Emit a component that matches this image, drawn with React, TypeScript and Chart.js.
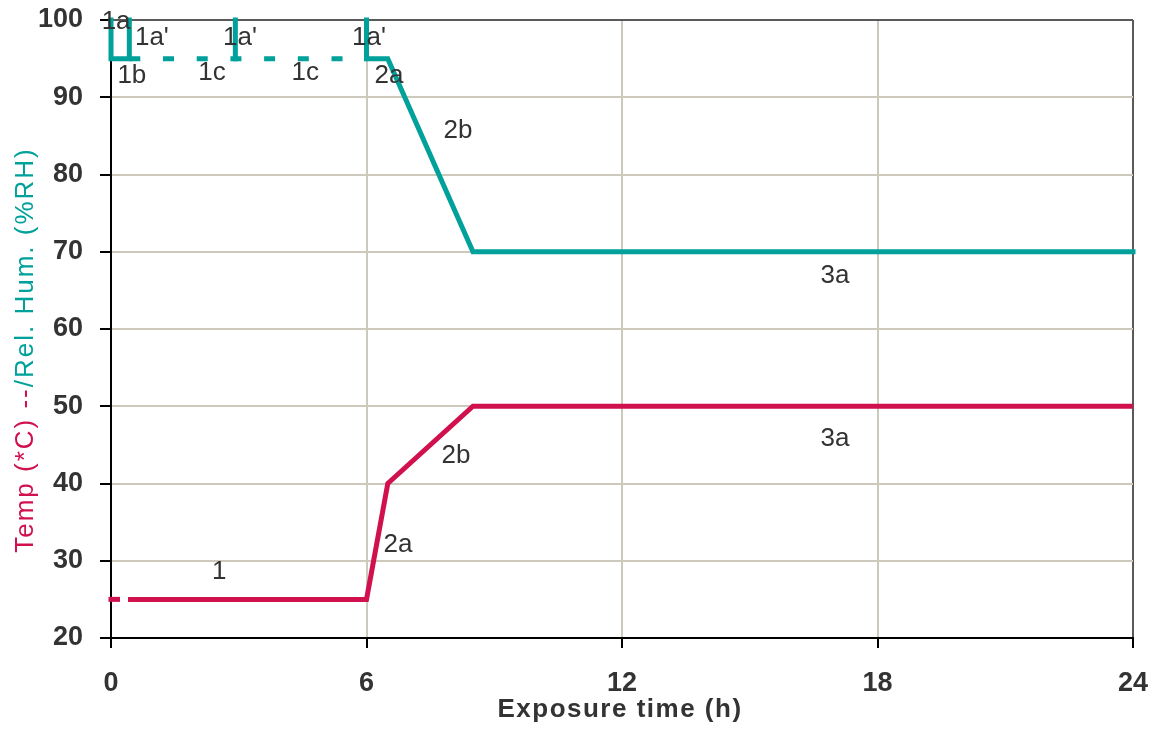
import React, { useEffect, useRef } from "react";
import { Chart, registerables } from "chart.js";

Chart.register(...registerables);

// ---- data ----
const timeMin = 0;
const timeMax = 24;
const timeStep = 6;
const valueMin = 20;
const valueMax = 100;
const valueStep = 10;

// temperature (°C)
const tempDashedTime = [0, 0.4];
const tempDashedValue = [25, 25];
const tempSolidTime = [0.4, 6, 6.5, 8.5, 24];
const tempSolidValue = [25, 25, 40, 50, 50];

// relative humidity (%RH); null = break in the line
const rhSolidTime = [0, 0, 0.43, 0.43, 1, 2.92, 2.92, 4, 6, 6, 6.5, 8.5, 24];
const rhSolidValue = [100, 95, 95, 100, null, 95, 100, null, 100, 95, 95, 70, 70];
const rhDashedTime = [0.43, 6];
const rhDashedValue = [95, 95];

// phase annotations
const labelText = ["1a", "1a'", "1a'", "1a'", "1b", "1c", "1c", "2a", "2b", "3a", "3a", "2b", "2a", "1"];
const labelTime = [0.12, 0.96, 3.03, 6.06, 0.49, 2.37, 4.56, 6.53, 8.15, 17.0, 17.0, 8.1, 6.74, 2.54];
const labelValue = [100.1, 98.0, 98.0, 98.0, 93.0, 93.4, 93.4, 93.1, 85.9, 67.1, 46.1, 43.8, 32.4, 28.9];

const xTitle = "Exposure time (h)";
const yTitleTemp = "Temp (*C) --";
const yTitleRh = "/Rel. Hum. (%RH)";

const TEAL = "#00a19a";
const RED = "#d0114e";
const GRID = "#cdcabb";
const FRAME = "#5a5a5a";
const TEXT = "#333333";
const FONT = "'Liberation Sans', Arial, sans-serif";

const pts = (xs: number[], ys: (number | null)[]) => xs.map((x, i) => ({ x, y: ys[i] }));

const textPlugin = {
  id: "phaseLabels",
  afterDatasetsDraw(chart: any) {
    const { ctx, scales } = chart;
    const xs = scales.x;
    const ys = scales.y;
    ctx.save();
    ctx.font = `26px ${FONT}`;
    ctx.fillStyle = TEXT;
    ctx.textAlign = "center";
    ctx.textBaseline = "alphabetic";
    labelText.forEach((t, i) => {
      const px = xs.getPixelForValue(labelTime[i]);
      const py = ys.getPixelForValue(labelValue[i]);
      ctx.fillText(t, px, py + 9.3);
    });
    ctx.restore();
  },
  afterDraw(chart: any) {
    const { ctx } = chart;
    ctx.save();
    // x title
    ctx.font = `bold 26px ${FONT}`;
    (ctx as any).letterSpacing = "1.5px";
    ctx.fillStyle = TEXT;
    ctx.textAlign = "left";
    ctx.textBaseline = "alphabetic";
    const wx = ctx.measureText(xTitle).width;
    ctx.fillText(xTitle, 620 - wx / 2, 717);
    // y title (two colours)
    ctx.font = `26px ${FONT}`;
    (ctx as any).letterSpacing = "2px";
    const w1 = ctx.measureText(yTitleTemp).width;
    const w2 = ctx.measureText(yTitleRh).width;
    const total = w1 + w2;
    ctx.translate(33, 350);
    ctx.rotate(-Math.PI / 2);
    ctx.fillStyle = RED;
    ctx.fillText(yTitleTemp, -total / 2, 0);
    ctx.fillStyle = TEAL;
    ctx.fillText(yTitleRh, -total / 2 + w1, 0);
    ctx.restore();
  },
};

export default function App() {
  const ref = useRef<HTMLCanvasElement | null>(null);

  useEffect(() => {
    if (!ref.current) return;
    const line = {
      borderWidth: 5,
      pointRadius: 0,
      tension: 0,
      fill: false,
      spanGaps: false,
      borderJoinStyle: "miter" as const,
    };
    const chart = new Chart(ref.current, {
      type: "line",
      data: {
        datasets: [
          {
            ...line,
            data: pts(rhSolidTime, rhSolidValue),
            borderColor: TEAL,
            borderCapStyle: "square",
            clip: false,
          },
          {
            ...line,
            data: pts(rhDashedTime, rhDashedValue),
            borderColor: TEAL,
            borderCapStyle: "butt",
            borderDash: [11, 22.7],
          },
          {
            ...line,
            data: pts(tempSolidTime, tempSolidValue),
            borderColor: RED,
            borderCapStyle: "butt",
          },
          {
            ...line,
            data: pts(tempDashedTime, tempDashedValue),
            borderColor: RED,
            borderCapStyle: "square",
            borderDash: [6.5, 40],
            clip: false,
          },
        ] as any,
      },
      options: {
        animation: false,
        responsive: true,
        maintainAspectRatio: false,
        events: [],
        layout: { padding: { top: 20, right: 24, bottom: 0, left: 0 } },
        plugins: {
          legend: { display: false },
          tooltip: { enabled: false },
        },
        scales: {
          x: {
            type: "linear",
            min: timeMin,
            max: timeMax,
            afterFit: (s: any) => {
              s.height = 91;
              s.paddingLeft = 0;
              s.paddingRight = 0;
            },
            ticks: {
              stepSize: timeStep,
              padding: 19,
              color: TEXT,
              font: { family: FONT, size: 27, weight: "bold" },
            },
            grid: {
              color: (c: any) => (c.tick && c.tick.value === timeMax ? FRAME : GRID),
              lineWidth: 2,
              tickColor: "#000",
              tickLength: 10,
            },
            border: { color: "#000", width: 2 },
          },
          y: {
            type: "linear",
            min: valueMin,
            max: valueMax,
            afterFit: (s: any) => {
              s.width = 111;
              s.paddingTop = 0;
              s.paddingBottom = 0;
            },
            ticks: {
              stepSize: valueStep,
              padding: 17,
              color: TEXT,
              font: { family: FONT, size: 27, weight: "bold" },
            },
            grid: {
              color: (c: any) => (c.tick && c.tick.value === valueMax ? FRAME : GRID),
              lineWidth: 2,
              tickColor: "#000",
              tickLength: 11,
            },
            border: { color: "#000", width: 2 },
          },
        },
      } as any,
      plugins: [textPlugin],
    });
    return () => chart.destroy();
  }, []);

  return (
    <div style={{ position: "fixed", left: 0, top: 0, width: "1157px", height: "729px", background: "#fff" }}>
      <canvas ref={ref} />
    </div>
  );
}
